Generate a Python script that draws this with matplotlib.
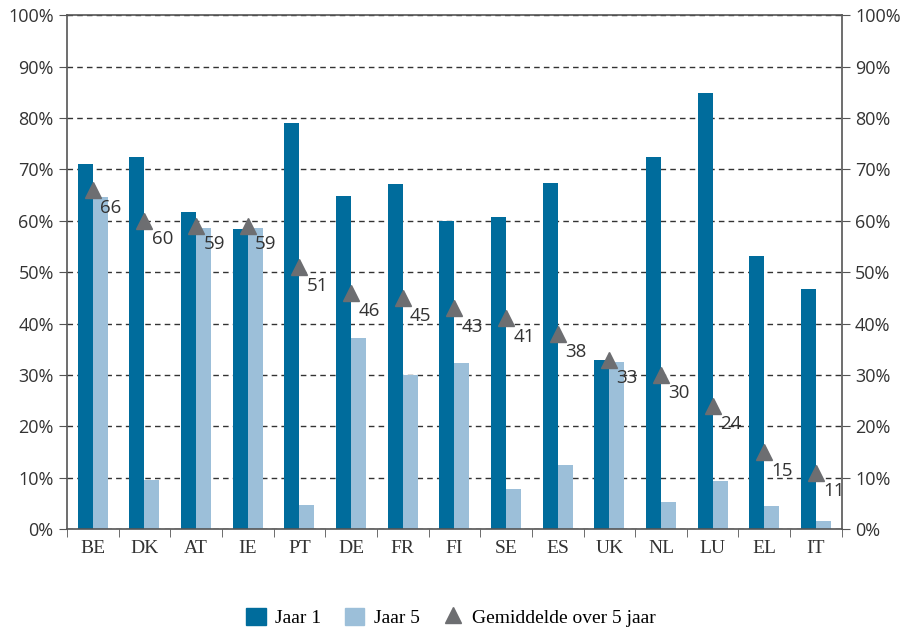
import matplotlib.pyplot as plt
import numpy as np
from matplotlib.ticker import FuncFormatter
from matplotlib.lines import Line2D
from matplotlib.patches import Patch

landen = ['BE', 'DK', 'AT', 'IE', 'PT', 'DE', 'FR', 'FI', 'SE', 'ES', 'UK', 'NL', 'LU', 'EL', 'IT']
jaar1 = [71.0, 72.4, 61.7, 58.4, 79.0, 64.8, 67.1, 59.9, 60.7, 67.3, 32.9, 72.4, 84.8, 53.1, 46.7]
jaar5 = [64.6, 9.5, 58.6, 58.6, 4.7, 37.2, 30.0, 32.3, 7.8, 12.5, 32.5, 5.3, 9.3, 4.5, 1.6]
gemiddelde = [66, 60, 59, 59, 51, 46, 45, 43, 41, 38, 33, 30, 24, 15, 11]

donker = '#006c9c'
licht = '#9cbfd9'
grijs = '#6d6e71'
sans = ['Open Sans', 'DejaVu Sans']
serif = ['Liberation Serif', 'DejaVu Serif']

fig = plt.figure(figsize=(9.17, 6.3), dpi=100)
ax = fig.add_axes([0.073, 0.160, 0.845, 0.816])

x = np.arange(len(landen))
w = 0.29
ax.bar(x - w / 2, jaar1, w, color=donker, zorder=2)
ax.bar(x + w / 2, jaar5, w, color=licht, zorder=2)
ax.plot(x, gemiddelde, linestyle='none', marker='^', markersize=11,
        color=grijs, zorder=3)
for xi, g in zip(x, gemiddelde):
    ax.text(xi + 0.14, g - 3.6, str(g), fontsize=13.5, family=sans,
            color='#333333', va='center', ha='left', zorder=4)

ax.set_xlim(-0.5, len(landen) - 0.5)
ax.set_ylim(0, 100)
ax.set_yticks(range(0, 101, 10))
ax.yaxis.set_major_formatter(FuncFormatter(lambda v, p: f'{int(v)}%'))
ax.grid(axis='y', linestyle=(0, (4, 3)), color='#333333', linewidth=1, zorder=1)
ax.tick_params(axis='y', which='both', left=True, right=True, labelleft=True,
               labelright=True, direction='out', length=6, color='#555555',
               labelsize=13, labelcolor='#333333')
for lab in ax.get_yticklabels():
    lab.set_family(sans)

ax.set_xticks(x)
ax.set_xticklabels(landen, family=serif, fontsize=14, color='#333333')
ax.set_xticks(np.arange(-0.5, len(landen)), minor=True)
ax.tick_params(axis='x', which='major', length=0, pad=8)
ax.tick_params(axis='x', which='minor', length=6, color='#555555', direction='out')

for s in ax.spines.values():
    s.set_color('#555555')
    s.set_linewidth(1.2)

handles = [Patch(color=donker), Patch(color=licht),
           Line2D([], [], linestyle='none', marker='^', markersize=11, color=grijs)]
fig.legend(handles, ['Jaar 1', 'Jaar 5', 'Gemiddelde over 5 jaar'],
           loc='center', bbox_to_anchor=(0.492, 0.02), ncol=3, frameon=False,
           prop={'family': serif, 'size': 14}, handlelength=1.0,
           handleheight=1.0, columnspacing=1.2, handletextpad=0.5)

fig.savefig('out.png', dpi=100)
